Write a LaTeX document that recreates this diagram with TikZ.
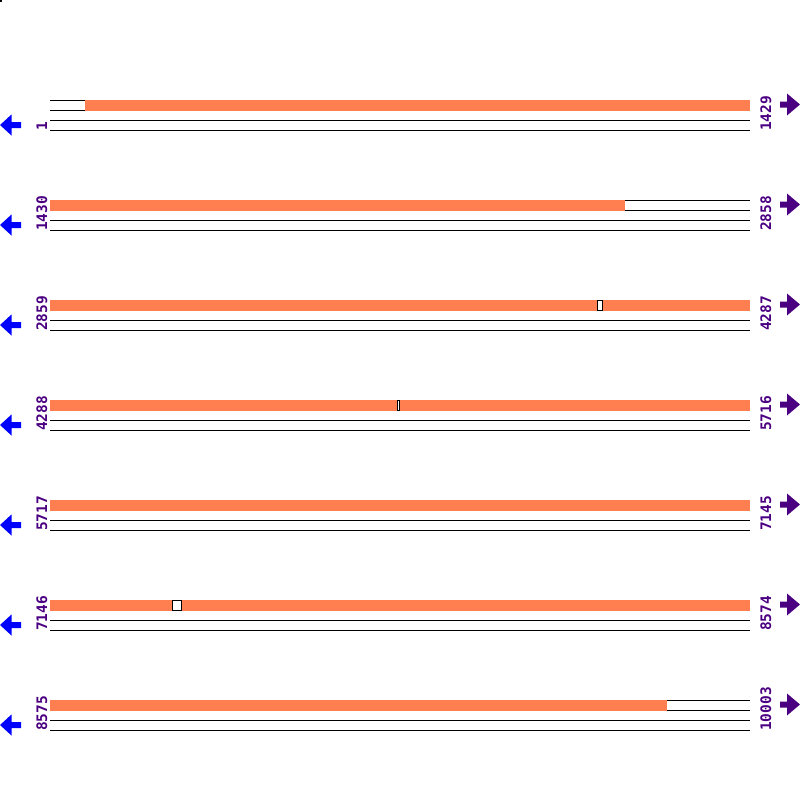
\documentclass[tikz,border=0pt]{standalone}
\usepackage{fontspec}
\setmainfont{DejaVu Sans}
\newfontfamily\lblfont{DejaVu Sans Mono}
\definecolor{bar}{HTML}{FF7F50}
\definecolor{lbl}{HTML}{4B0082}
\definecolor{larr}{HTML}{0000FF}
\begin{document}
\begin{tikzpicture}[x=1pt,y=-1pt,
  track/.style={line width=1pt,black},
  barfill/.style={fill=bar},
  gapbox/.style={fill=white,draw=black,line width=1pt},
  numlbl/.style={rotate=90,anchor=base west,inner sep=0pt,text=lbl,font=\lblfont\bfseries\fontsize{14.5}{14.5}\selectfont},
  leftarrow/.style={fill=larr},
  rightarrow/.style={fill=lbl}]
\useasboundingbox[fill=white] (0,0) rectangle (800,800);
\fill (0,0) rectangle (2,2);
% rows: index / left label / right label
\foreach \i/\l/\r in {0/1/1429,1/1430/2858,2/2859/4287,3/4288/5716,4/5717/7145,5/7146/8574,6/8575/10003}{
  \pgfmathsetmacro{\y}{100+100*\i}
  \foreach \k in {0,10,20,30}{
    \draw[track] (50,\y+\k) coordinate (t\i s\k) -- (750,\y+\k) coordinate (t\i e\k);
  }
  \node[numlbl] (L\i) at (47,\y+31) {\l};
  \node[numlbl] (R\i) at (771,\y+31) {\r};
  % left arrow (blue)
  \fill[leftarrow] (0,\y+25) -- (11.5,\y+14.5) -- (11.5,\y+22) -- (21,\y+22) -- (21,\y+28) -- (11.5,\y+28) -- (11.5,\y+35.5) -- cycle;
  % right arrow (purple)
  \fill[rightarrow] (800,\y+4.5) -- (787,\y-6.5) -- (787,\y+1.5) -- (780,\y+1.5) -- (780,\y+7.5) -- (787,\y+7.5) -- (787,\y+15.5) -- cycle;
}
% orange segments
\fill[barfill] (85,99.5) rectangle (750,110.5);
\fill[barfill] (50,199.5) rectangle (625,210.5);
\fill[barfill] (50,299.5) rectangle (750,310.5);
\draw[gapbox] (597,300) rectangle (602,310);
\fill[barfill] (50,399.5) rectangle (750,410.5);
\draw[gapbox] (397,400) rectangle (399,410);
\fill[barfill] (50,499.5) rectangle (750,510.5);
\fill[barfill] (50,599.5) rectangle (750,610.5);
\draw[gapbox] (172,600) rectangle (181,610);
\fill[barfill] (50,699.5) rectangle (667,710.5);
\end{tikzpicture}
\end{document}
